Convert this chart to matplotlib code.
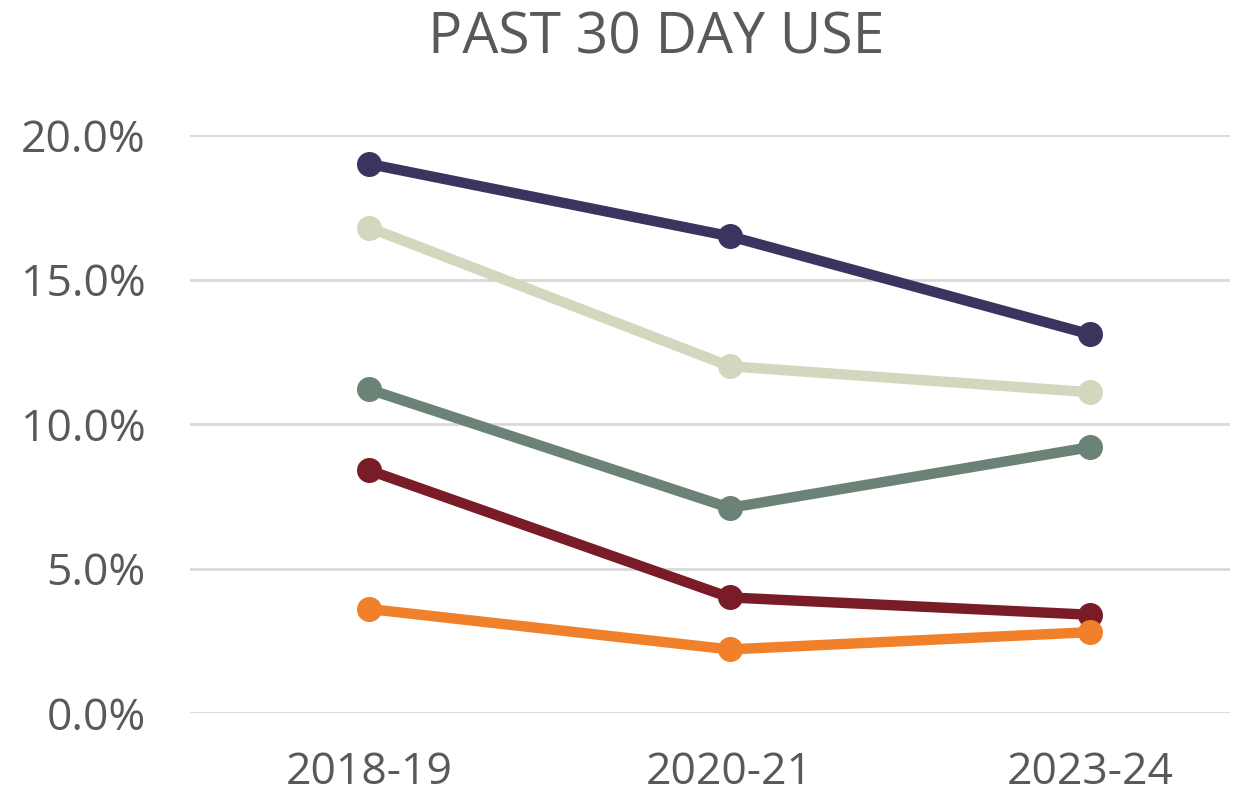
import matplotlib.pyplot as plt
import matplotlib

matplotlib.rc("font", family="Open Sans")

years = ["2018-19", "2020-21", "2023-24"]

navy = [19.0, 16.5, 13.1]
beige = [16.8, 12.0, 11.1]
sage = [11.2, 7.1, 9.2]
maroon = [8.4, 4.0, 3.4]
orange = [3.6, 2.2, 2.8]

series = [
    (navy, "#3a355f"),
    (beige, "#d3d7bd"),
    (sage, "#6b8376"),
    (maroon, "#7a1c27"),
    (orange, "#f08029"),
]

fig = plt.figure(figsize=(12.58, 7.99), dpi=100)
ax = fig.add_axes([0.151, 0.1076, 0.827, 0.7234])

x = range(len(years))
for vals, color in series:
    ax.plot(x, vals, "-o", color=color, linewidth=7.5, markersize=17,
            clip_on=False, solid_capstyle="round")

ax.set_xlim(-0.4965, 0.388 + 2)
ax.set_ylim(0, 20)
ax.set_yticks([0, 5, 10, 15, 20])
ax.set_yticklabels(["0.0%", "5.0%", "10.0%", "15.0%", "20.0%"])
ax.set_xticks(list(x))
ax.set_xticklabels(years)
ax.grid(axis="y", color="#d9d9d9", linewidth=2)
ax.set_axisbelow(True)
for s in ax.spines.values():
    s.set_visible(False)
ax.tick_params(length=0, labelsize=32, colors="#595959")
ax.tick_params(axis="y", pad=32)
ax.tick_params(axis="x", pad=27)

fig.text(0.522, 0.951, "PAST 30 DAY USE", ha="center", va="center",
         fontsize=41, color="#595959")

fig.savefig("out.png", dpi=100)
